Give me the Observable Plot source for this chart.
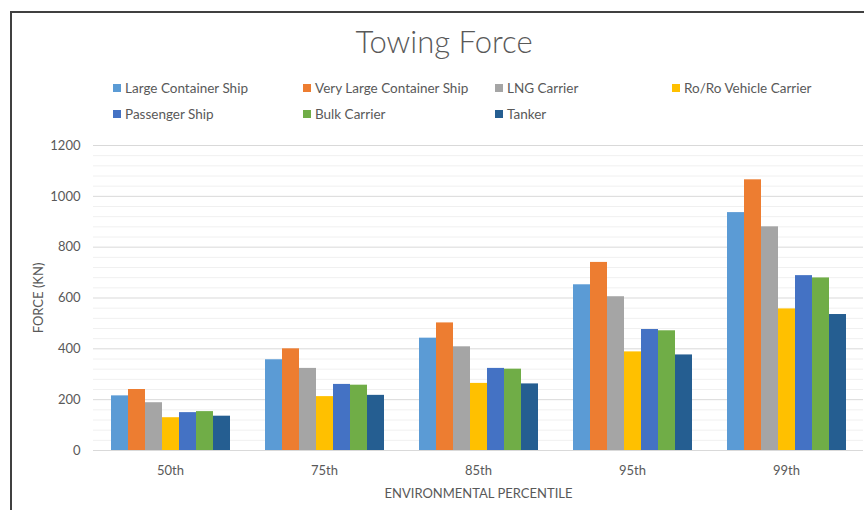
<!DOCTYPE html>
<html><head><meta charset="utf-8">
<script src="https://cdn.jsdelivr.net/npm/d3@7"></script>
<script src="https://cdn.jsdelivr.net/npm/@observablehq/plot@0.6"></script>
<style>
body{margin:0;background:#fff;font-family:Lato, sans-serif;color:#595959}
#wrap{position:relative;width:864px;height:510px;overflow:hidden;background:#fff}
#frame{position:absolute;left:10px;top:11px;width:900px;height:600px;border:2px solid #404040;box-sizing:border-box}
#title{position:absolute;left:11px;width:866px;top:26px;text-align:center;font-size:31px;font-weight:300;line-height:31px}
#legend{position:absolute;left:113px;top:80px;display:grid;grid-template-columns:190px 192px 177px auto;grid-auto-rows:26px;font-size:13.5px}
.item{display:flex;align-items:center;height:15px;white-space:nowrap}
.sw{width:8px;height:8px;margin-right:4px;flex:none}
#chart{position:absolute;left:0;top:130px}
g[aria-label="y-axis label"] text, g[aria-label="fx-axis label"] text{font-size:13px}
</style>
</head>
<body>
<div id="wrap">
  <div id="frame"></div>
  <div id="title">Towing Force</div>
  <div id="legend"></div>
  <div id="chart"></div>
</div>
<script>
const categories = ["50th", "75th", "85th", "95th", "99th"];
const seriesNames = ["Large Container Ship", "Very Large Container Ship", "LNG Carrier", "Ro/Ro Vehicle Carrier", "Passenger Ship", "Bulk Carrier", "Tanker"];
const largeContainerShip = [215, 357, 442, 652, 936];
const veryLargeContainerShip = [240, 400, 502, 740, 1065];
const lngCarrier = [188, 323, 408, 605, 880];
const roroVehicleCarrier = [129, 212, 264, 388, 557];
const passengerShip = [149, 260, 323, 476, 688];
const bulkCarrier = [153, 257, 320, 471, 679];
const tanker = [135, 217, 262, 376, 535];
const seriesColors = ["#5B9BD5", "#ED7D31", "#A5A5A5", "#FFC000", "#4472C4", "#70AD47", "#255E91"];
const yTicks = [0, 200, 400, 600, 800, 1000, 1200];

const seriesValues = [largeContainerShip, veryLargeContainerShip, lngCarrier, roroVehicleCarrier, passengerShip, bulkCarrier, tanker];
const data = seriesNames.flatMap((s, i) => categories.map((c, j) => ({category: c, series: s, value: seriesValues[i][j]})));

// legend
const legend = document.getElementById("legend");
seriesNames.forEach((s, i) => {
  const it = document.createElement("div");
  it.className = "item";
  const sw = document.createElement("span");
  sw.className = "sw";
  sw.style.background = seriesColors[i];
  const tx = document.createElement("span");
  tx.textContent = s;
  it.append(sw, tx);
  legend.append(it);
});

const minorTicks = d3.range(0, 1201, 40).filter(v => v % 200 !== 0);

const chart = Plot.plot({
  width: 864,
  height: 380,
  marginLeft: 93,
  marginRight: 1,
  marginTop: 15,
  marginBottom: 60,
  style: {fontFamily: "Lato", fontSize: "13px", color: "#595959", background: "transparent", overflow: "visible"},
  fx: {domain: categories, padding: 0},
  x: {domain: seriesNames, paddingInner: 0, paddingOuter: 1, axis: null},
  y: {domain: [0, 1200]},
  color: {domain: seriesNames, range: seriesColors},
  marks: [
    Plot.ruleY(minorTicks, {stroke: "#f0f0f0", strokeWidth: 1}),
    Plot.ruleY(yTicks, {stroke: "#d9d9d9", strokeWidth: 1}),
    Plot.barY(data, {fx: "category", x: "series", y: "value", fill: "series"}),
    Plot.axisY({ticks: yTicks, tickFormat: d => String(d), tickSize: 0, tickPadding: 13, label: "FORCE (KN)", labelAnchor: "center", labelOffset: 60, labelArrow: "none"}),
    Plot.axisFx({anchor: "bottom", tickSize: 0, tickPadding: 15, label: "ENVIRONMENTAL PERCENTILE", labelAnchor: "center", labelOffset: 47})
  ]
});
document.getElementById("chart").append(chart);
</script>
</body></html>
